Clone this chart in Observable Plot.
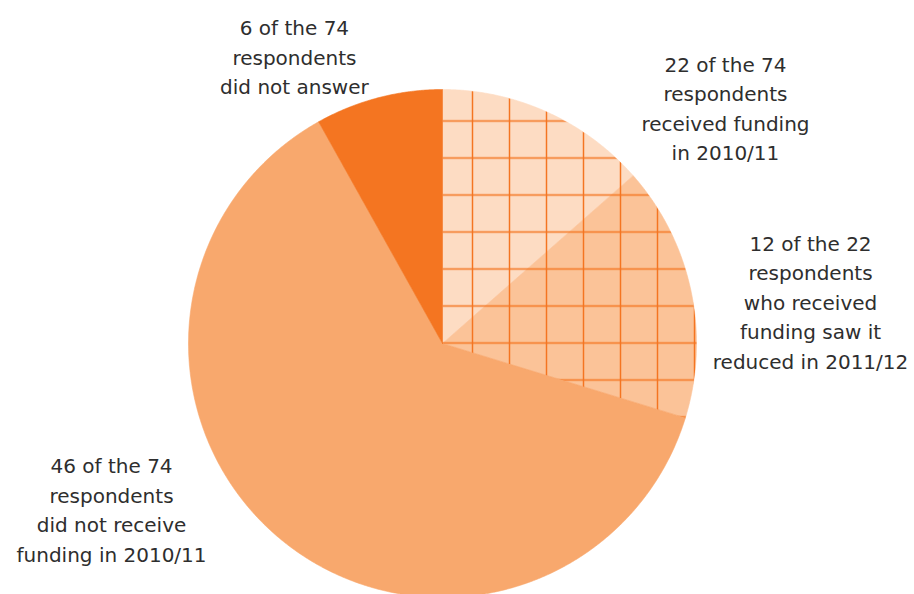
<!DOCTYPE html>
<html>
<head>
<meta charset="utf-8">
<script src="https://cdn.jsdelivr.net/npm/d3@7"></script>
<script src="https://cdn.jsdelivr.net/npm/@observablehq/plot@0.6"></script>
<style>
  html, body { margin: 0; padding: 0; background: #fff; }
  #chart svg { overflow: hidden; display: block; }
</style>
</head>
<body>
<div id="chart"></div>
<script>
// ---- data ----
const categories = [
  "Received funding in 2010/11, not reduced",
  "Received funding, reduced in 2011/12",
  "Did not receive funding in 2010/11",
  "Did not answer"
];
const counts = [10, 12, 46, 6];
const hatched = [true, true, false, false];
const colors = ["#FDDCC3", "#FBC398", "#F8A86D", "#F47521"];

const labelTexts = [
  "6 of the 74\nrespondents\ndid not answer",
  "22 of the 74\nrespondents\nreceived funding\nin 2010/11",
  "12 of the 22\nrespondents\nwho received\nfunding saw it\nreduced in 2011/12",
  "46 of the 74\nrespondents\ndid not receive\nfunding in 2010/11"
];
// label anchor positions in pie units (radius = 1)
const labelU = [-0.583, 1.114, 1.449, -1.303];
const labelV = [1.135, 0.932, 0.171, -0.648];

// ---- layout ----
const W = 914, H = 594;
const cx = 442, cy = 343, R = 254;

const arcs = d3.pie().sort(null).value(d => d)(counts);

function sector(a0, a1, key) {
  const pts = [{u: 0, v: 0, key}];
  const n = Math.max(2, Math.ceil((a1 - a0) / (Math.PI / 720)));
  for (let i = 0; i <= n; i++) {
    const a = a0 + (a1 - a0) * i / n;
    pts.push({u: Math.sin(a), v: Math.cos(a), key});
  }
  pts.push({u: 0, v: 0, key});
  return pts;
}

const slicePts = arcs.map((a, i) => sector(a.startAngle, a.endAngle, categories[i]));
const hatchArcs = arcs.filter((a, i) => hatched[i]);
const hatchPts = sector(d3.min(hatchArcs, a => a.startAngle), d3.max(hatchArcs, a => a.endAngle), "hatch");

const labels = labelTexts.map((t, i) => ({text: t, u: labelU[i], v: labelV[i]}));

const plot = Plot.plot({
  width: W,
  height: H,
  margin: 0,
  x: {domain: [-cx / R, (W - cx) / R], range: [0, W], axis: null},
  y: {domain: [-(H - cy) / R, cy / R], range: [H, 0], axis: null},
  style: {background: "#fff"},
  marks: [
    ...slicePts.map((pts, i) => Plot.line(pts, {
      x: "u", y: "v", fill: colors[i], stroke: colors[i], strokeWidth: 0.6
    })),
    Plot.line(hatchPts, {x: "u", y: "v", fill: "url(#grid)", stroke: "none"}),
    Plot.text(labels, {
      x: "u", y: "v", text: "text",
      fontFamily: "'DejaVu Sans', sans-serif",
      fontSize: 20,
      lineHeight: 1.475,
      fill: "#2e2e2e",
      textAnchor: "middle",
      lineAnchor: "middle"
    })
  ]
});

// grid pattern for the "received funding" sectors
const xs = plot.scale("x"), ys = plot.scale("y");
const step = 37;
const ns = "http://www.w3.org/2000/svg";
const defs = document.createElementNS(ns, "defs");
const pat = document.createElementNS(ns, "pattern");
pat.setAttribute("id", "grid");
pat.setAttribute("patternUnits", "userSpaceOnUse");
pat.setAttribute("width", step);
pat.setAttribute("height", step);
pat.setAttribute("x", xs.apply(0) + 30 - step / 2);
pat.setAttribute("y", ys.apply(0) - 0.5 - step / 2);
const vl = document.createElementNS(ns, "line");
vl.setAttribute("x1", step / 2); vl.setAttribute("x2", step / 2);
vl.setAttribute("y1", 0); vl.setAttribute("y2", step);
const hl = document.createElementNS(ns, "line");
hl.setAttribute("x1", 0); hl.setAttribute("x2", step);
hl.setAttribute("y1", step / 2); hl.setAttribute("y2", step / 2);
for (const l of [vl, hl]) {
  l.setAttribute("stroke", "#F47521");
  l.setAttribute("stroke-width", 1.5);
  pat.appendChild(l);
}
defs.appendChild(pat);
plot.insertBefore(defs, plot.firstChild);

document.getElementById("chart").appendChild(plot);
</script>
</body>
</html>
